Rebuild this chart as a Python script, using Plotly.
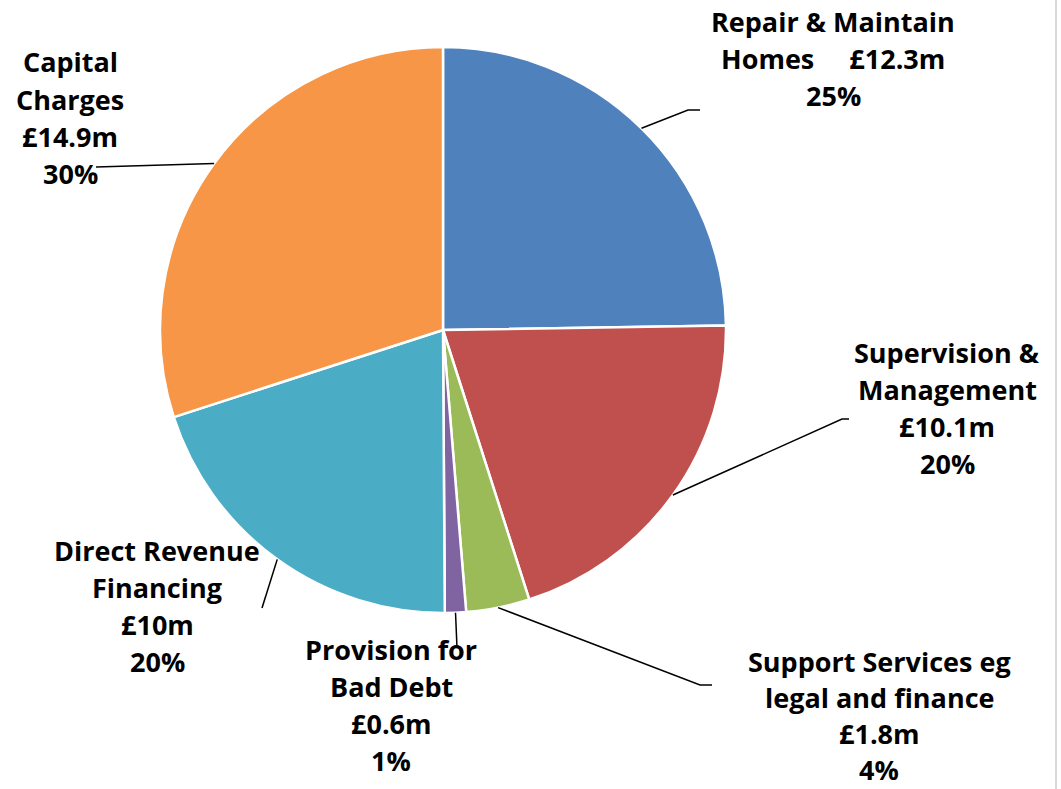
import math
import plotly.graph_objects as go

# Housing Revenue Account spend by category (£m), clockwise from 12 o'clock
categories = [
    "Repair & Maintain Homes",
    "Supervision & Management",
    "Support Services eg legal and finance",
    "Provision for Bad Debt",
    "Direct Revenue Financing",
    "Capital Charges",
]
values_m = [12.3, 10.1, 1.8, 0.6, 10, 14.9]
colors = ["#4F81BD", "#C0504D", "#9BBB59", "#8064A2", "#4BACC6", "#F79646"]

# How each category name wraps in its label
name_lines = [
    ["Repair & Maintain", "Homes"],
    ["Supervision &", "Management"],
    ["Support Services eg", "legal and finance"],
    ["Provision for", "Bad Debt"],
    ["Direct Revenue", "Financing"],
    ["Capital", "Charges"],
]

# ---- layout (pixels) -------------------------------------------------------
W, H = 1061, 789
CX, CY, R = 443, 330, 283
LINE_GAP = 37.3
FONT = dict(family="Open Sans", size=27, color="#000000", weight="bold")

# label block: centre x, first-line centre y, line gap, value on last name line?
label_pos = [
    dict(x=833, y=21, gap=LINE_GAP, inline=True),
    dict(x=947, y=352, gap=LINE_GAP, inline=False),
    dict(x=879, y=661, gap=36.3, inline=False),
    dict(x=391, y=649, gap=LINE_GAP, inline=False),
    dict(x=157, y=550, gap=LINE_GAP, inline=False),
    dict(x=70, y=62, gap=LINE_GAP, inline=False),
]
# leader line path after leaving the slice edge
leader_pts = [
    [(688, 110), (700, 110)],
    [(842, 419), (849, 419)],
    [(700, 685), (712, 685)],
    [(457, 648)],
    [(262, 608)],
    [(96, 167)],
]


def px(x):
    return x / W


def py(y):
    return 1 - y / H


total = sum(values_m)
pcts = [round(v / total * 100) for v in values_m]

fig = go.Figure(
    go.Pie(
        labels=categories,
        values=values_m,
        sort=False,
        direction="clockwise",
        rotation=0,
        marker=dict(colors=colors, line=dict(color="#FFFFFF", width=2.5)),
        textinfo="none",
        hoverinfo="label+value+percent",
        showlegend=False,
        domain=dict(x=[px(CX - R), px(CX + R)], y=[py(CY + R), py(CY - R)]),
    )
)

annotations = []
shapes = []
cum = 0.0
for i, v in enumerate(values_m):
    # leader line starts on the rim at the slice's mid angle
    mid = (cum + v / 2) / total * 2 * math.pi
    cum += v
    sx = CX + R * math.sin(mid)
    sy = CY - R * math.cos(mid)
    pts = [(sx, sy)] + leader_pts[i]
    path = "M " + " L ".join(f"{px(x):.5f},{py(y):.5f}" for x, y in pts)
    shapes.append(
        dict(type="path", xref="paper", yref="paper", path=path,
             line=dict(color="#000000", width=1.5))
    )

    value_txt = f"£{v:g}m"
    pct_txt = f"{pcts[i]}%"
    lines = list(name_lines[i])
    if label_pos[i]["inline"]:
        lines[-1] = lines[-1] + "\u00a0" * 5 + value_txt
    else:
        lines.append(value_txt)
    lines.append(pct_txt)
    for k, t in enumerate(lines):
        annotations.append(
            dict(text=t, xref="paper", yref="paper",
                 x=px(label_pos[i]["x"]),
                 y=py(label_pos[i]["y"] + k * label_pos[i]["gap"]),
                 xanchor="center", yanchor="middle", showarrow=False,
                 borderpad=0, font=FONT)
        )

# chart-area frame edge on the right
shapes.append(
    dict(type="line", xref="paper", yref="paper",
         x0=px(1056), x1=px(1056), y0=0, y1=1,
         line=dict(color="#D9D9D9", width=2))
)

fig.update_layout(
    width=W,
    height=H,
    margin=dict(l=0, r=0, t=0, b=0),
    paper_bgcolor="#FFFFFF",
    plot_bgcolor="#FFFFFF",
    annotations=annotations,
    shapes=shapes,
)

fig.write_html("out.html")
